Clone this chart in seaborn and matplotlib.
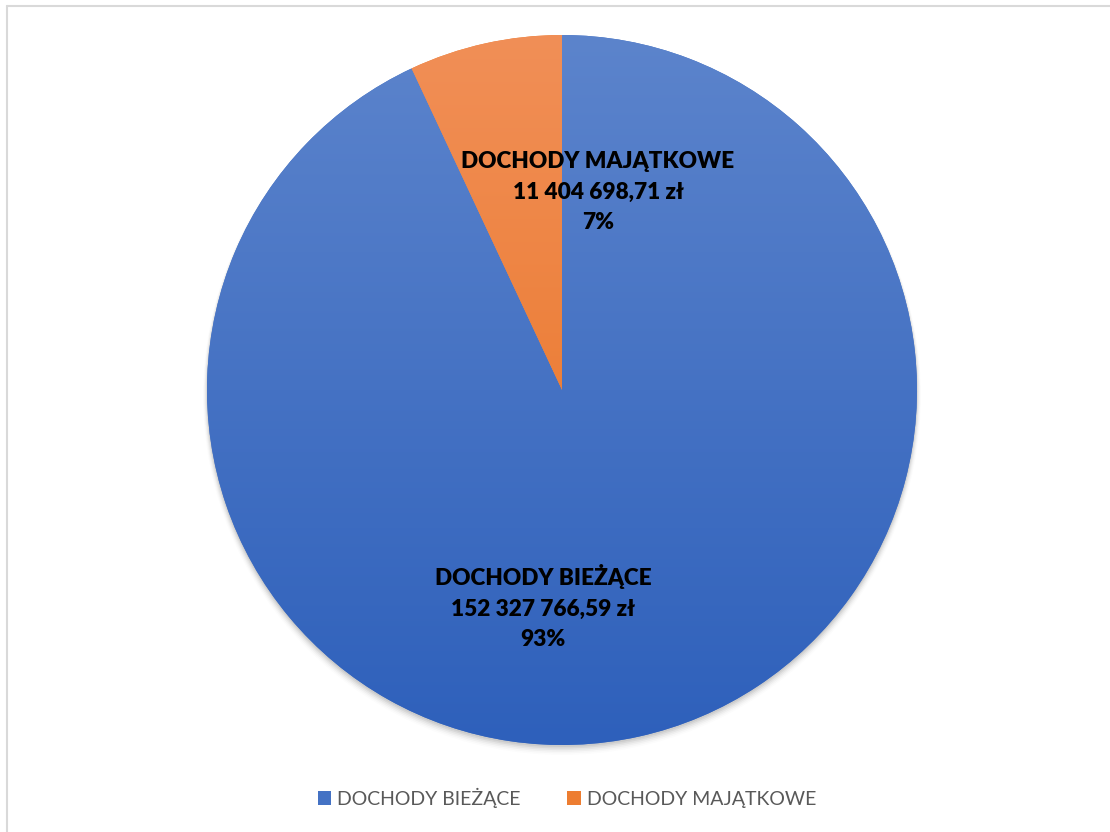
import numpy as np
import matplotlib
matplotlib.use("Agg")
import matplotlib.pyplot as plt
import seaborn as sns
from matplotlib.patches import Patch, Circle
import matplotlib.colors as mcolors

categories = ["DOCHODY BIEŻĄCE", "DOCHODY MAJĄTKOWE"]
values = [152327766.59, 11404698.71]
value_labels = ["152 327 766,59 zł", "11 404 698,71 zł"]
pct_labels = ["93%", "7%"]
top_colors = ["#5C84CC", "#F18F57"]
bottom_colors = ["#2E60BB", "#E8701C"]
legend_colors = ["#4472C4", "#ED7D31"]

sns.set_theme(style="white")
plt.rcParams['font.family'] = ['Lato', 'DejaVu Sans']

W, H = 1110, 832
fig = plt.figure(figsize=(W / 100, H / 100), dpi=100)
ax = fig.add_axes([0, 0, 1, 1])
ax.set_xlim(0, W)
ax.set_ylim(0, H)
ax.set_aspect('equal')
ax.axis('off')

cx, cy, R = 562, H - 390, 355

# soft shadow
for i, a in enumerate(np.linspace(0.06, 0.01, 6)):
    ax.add_patch(Circle((cx, cy - 2 - i * 0.8), R + i * 0.8, color='black', alpha=a, lw=0, zorder=1))

wedges, _ = ax.pie(values, startangle=90, counterclock=False, center=(cx, cy),
                   radius=R, colors=legend_colors, frame=True,
                   wedgeprops=dict(linewidth=0))
ax.set_xlim(0, W)
ax.set_ylim(0, H)
ax.axis('off')

grad = np.linspace(0, 1, 256).reshape(-1, 1)
for w, ct, cb in zip(wedges, top_colors, bottom_colors):
    w.set_zorder(2)
    cmap = mcolors.LinearSegmentedColormap.from_list("g", [cb, ct])
    im = ax.imshow(grad, cmap=cmap, origin='lower', aspect='auto',
                   extent=(cx - R, cx + R, cy - R, cy + R), zorder=3,
                   interpolation='bilinear')
    im.set_clip_path(w)

# data labels
label_pos = [(543, H - 607), (598, H - 192)]
for cat, vl, pl, (lx, ly) in zip(categories, value_labels, pct_labels, label_pos):
    ax.text(lx, ly, f"{cat}\n{vl}\n{pl}", ha='center', va='center', fontsize=16.3,
            fontweight='heavy', color='black', linespacing=1.56, zorder=5)

handles = [Patch(facecolor=c, edgecolor='none') for c in legend_colors]
leg = fig.legend(handles, categories, loc='center', bbox_to_anchor=(567 / W, 1 - 798 / H),
                 ncol=2, frameon=False, fontsize=14, handlelength=0.7, handleheight=0.7,
                 handletextpad=0.3, columnspacing=2.4)
for t in leg.get_texts():
    t.set_color('#595959')

# frame border (left and top)
ax.plot([7, 7], [0, H - 6], color='#D9D9D9', lw=1.5, zorder=0, clip_on=False)
ax.plot([7, W], [H - 6, H - 6], color='#D9D9D9', lw=1.5, zorder=0, clip_on=False)

fig.savefig("out.png", dpi=100)
